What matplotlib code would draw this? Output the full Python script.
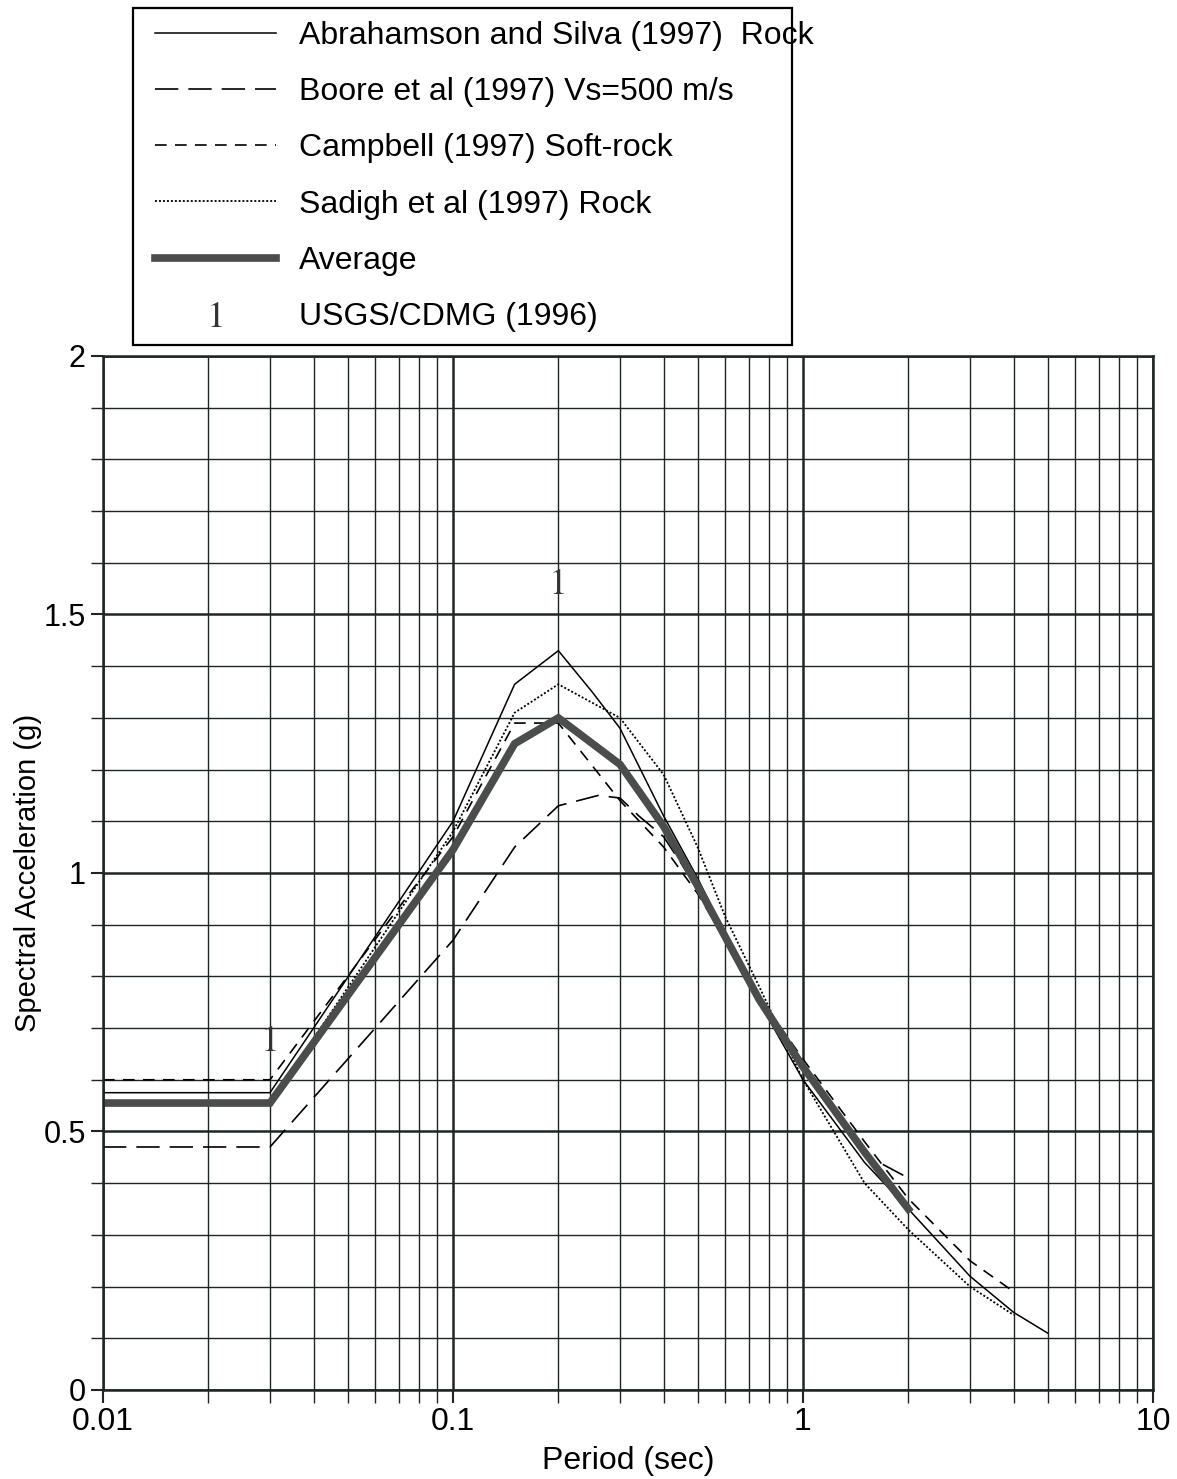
import numpy as np
import matplotlib
matplotlib.use('Agg')
import matplotlib.pyplot as plt
from matplotlib.patches import Rectangle
from matplotlib.ticker import FixedLocator, NullFormatter, FixedFormatter

plt.rcParams['font.family'] = ['Liberation Sans', 'DejaVu Sans']
plt.rcParams['mathtext.fontset'] = 'stix'

# spectral acceleration (g) vs period (sec)
as_T = [0.01, 0.03, 0.1, 0.15, 0.2, 0.25, 0.3, 0.4, 0.5, 0.75, 1.0, 1.5, 2.0, 3.0, 4.0, 5.0]
as_sa = [0.575, 0.575, 1.10, 1.365, 1.43, 1.35, 1.28, 1.11, 0.99, 0.75, 0.60, 0.44, 0.35, 0.22, 0.15, 0.11]

boore_T = [0.01, 0.03, 0.1, 0.15, 0.2, 0.26, 0.3, 0.34, 0.4, 0.5, 0.75, 1.0, 1.5, 2.0]
boore_sa = [0.47, 0.47, 0.87, 1.05, 1.13, 1.15, 1.145, 1.11, 1.07, 0.97, 0.76, 0.63, 0.455, 0.41]

camp_T = [0.01, 0.03, 0.05, 0.075, 0.1, 0.15, 0.2, 0.3, 0.4, 0.5, 0.75, 1.0, 1.5, 2.0, 3.0, 4.0]
camp_sa = [0.60, 0.60, 0.80, 0.96, 1.07, 1.29, 1.29, 1.14, 1.05, 0.96, 0.76, 0.64, 0.48, 0.37, 0.25, 0.19]

sad_T = [0.01, 0.03, 0.1, 0.15, 0.2, 0.3, 0.4, 0.5, 0.6, 0.75, 1.0, 1.5, 2.0, 3.0, 4.0]
sad_sa = [0.555, 0.555, 1.08, 1.31, 1.365, 1.30, 1.19, 1.05, 0.915, 0.78, 0.60, 0.40, 0.31, 0.20, 0.145]

avg_T = [0.01, 0.03, 0.1, 0.15, 0.2, 0.3, 0.4, 0.5, 0.75, 1.0, 1.5, 2.0]
avg_sa = [0.555, 0.555, 1.045, 1.25, 1.30, 1.21, 1.09, 0.975, 0.755, 0.625, 0.46, 0.35]

usgs_T = [0.03, 0.2]
usgs_sa = [0.68, 1.565]

labels = ['Abrahamson and Silva (1997)  Rock', 'Boore et al (1997) Vs=500 m/s',
          'Campbell (1997) Soft-rock', 'Sadigh et al (1997) Rock', 'Average',
          'USGS/CDMG (1996)']

W, H = 1177, 1479
fig = plt.figure(figsize=(W / 100, H / 100), dpi=100)
ax = fig.add_axes([0.0875, 0.0602, 0.8921, 0.6991])

ink = '#1e2622'
l1, = ax.plot(as_T, as_sa, color='black', lw=1.1)
l2, = ax.plot(boore_T, boore_sa, color='black', lw=1.2, dashes=(14, 6))
l3, = ax.plot(camp_T, camp_sa, color='black', lw=1.2, dashes=(7, 5))
l4, = ax.plot(sad_T, sad_sa, color='black', lw=1.3, dashes=(1.1, 1.1))
l5, = ax.plot(avg_T, avg_sa, color='#4a4d4c', lw=5.5, solid_joinstyle='miter')
l6, = ax.plot(usgs_T, usgs_sa, ls='none', marker='$1$', ms=18, color='#333333',
              markeredgewidth=0)

ax.set_xscale('log')
ax.set_xlim(0.01, 10)
ax.set_ylim(0, 2)

ax.xaxis.set_major_locator(FixedLocator([0.01, 0.1, 1, 10]))
ax.xaxis.set_major_formatter(FixedFormatter(['0.01', '0.1', '1', '10']))
minors = [m * d for d in [0.01, 0.1, 1] for m in range(2, 10)]
ax.xaxis.set_minor_locator(FixedLocator(minors))
ax.xaxis.set_minor_formatter(NullFormatter())
ax.yaxis.set_major_locator(FixedLocator([0, 0.5, 1, 1.5, 2]))
ax.yaxis.set_major_formatter(FixedFormatter(['0', '0.5', '1', '1.5', '2']))
ax.yaxis.set_minor_locator(FixedLocator(np.arange(0.1, 2.0, 0.1)))

ax.grid(True, which='major', color=ink, lw=1.8)
ax.grid(True, which='minor', color=ink, lw=1.0)
ax.set_axisbelow(True)
for s in ax.spines.values():
    s.set_color(ink)
    s.set_linewidth(1.8)

ax.tick_params(which='both', direction='out', color=ink)
ax.tick_params(axis='x', labelsize=23)
ax.tick_params(axis='y', labelsize=22)
ax.tick_params(which='major', length=9, width=1.5)
ax.tick_params(which='minor', length=9, width=1.0)

ax.set_xlabel('Period (sec)', fontsize=23, labelpad=6)
ax.set_ylabel('Spectral Acceleration (g)', fontsize=21, labelpad=1)

# legend: entries placed without frame, box drawn at the scanned position
leg = fig.legend([l1, l2, l3, l4, l5, l6], labels, loc='upper left',
                 bbox_to_anchor=(155 / W, 1 - 21 / H), fontsize=23,
                 handlelength=3.8, handletextpad=0.72, labelspacing=0.82,
                 borderpad=0, frameon=False, borderaxespad=0)
fig.patches.append(Rectangle((133 / W, 1 - 345 / H), (792 - 133) / W, (345 - 8) / H,
                             transform=fig.transFigure, fill=False,
                             edgecolor='black', lw=1.6))

fig.savefig('out.png', dpi=100)
